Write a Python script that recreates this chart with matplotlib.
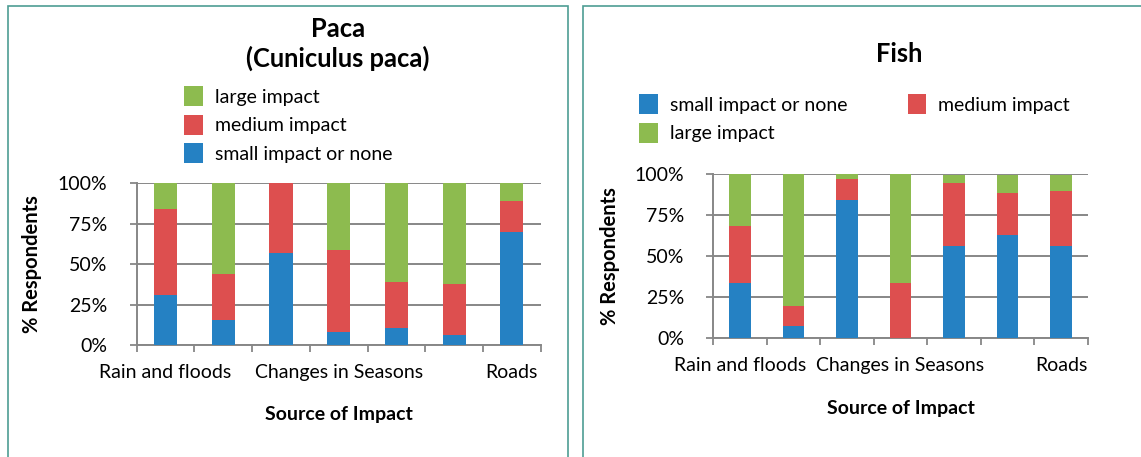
import numpy as np
import matplotlib.pyplot as plt
from matplotlib.patches import Rectangle

plt.rcParams['font.family'] = ['Lato', 'DejaVu Sans']

# categories on the x axis (only every third label is visible in the original)
tick_labels = ["Rain and floods", "", "", "Changes in Seasons", "", "", "Roads"]
y_ticks = [0, 25, 50, 75, 100]
y_tick_labels = ["0%", "25%", "50%", "75%", "100%"]

# Paca (Cuniculus paca), % respondents
paca_small = [31, 15.5, 57, 8, 10.5, 6, 70]
paca_medium = [53, 28.5, 43, 51, 28.5, 32, 19]
paca_large = [16, 56, 0, 41, 61, 62, 11]

# Fish, % respondents
fish_small = [33.3, 7.3, 84, 0, 56.3, 62.5, 56.3]
fish_medium = [35, 12.2, 13, 33.3, 38, 26, 33.3]
fish_large = [31.7, 80.5, 3, 66.7, 5, 11, 10]

series_names = ["small impact or none", "medium impact", "large impact"]
colors = ['#2581c3', '#dd4f4f', '#8dbb4f']
grid_col = '#878787'
border_col = '#4e9d94'

W, H = 1141, 457
fig = plt.figure(figsize=(W / 100, H / 100), dpi=100)


def px_axes(x0, y0, x1, y1):
    # pixel box (top-left origin) -> figure axes
    return fig.add_axes([x0 / W, 1 - y1 / H, (x1 - x0) / W, (y1 - y0) / H])


def draw_stack(ax, small, medium, large, ylab_x):
    x = np.arange(len(small))
    small = np.array(small)
    medium = np.array(medium)
    large = np.array(large)
    bars = []
    bars.append(ax.bar(x, small, 0.4, color=colors[0], label=series_names[0], zorder=3))
    bars.append(ax.bar(x, medium, 0.4, bottom=small, color=colors[1], label=series_names[1], zorder=3))
    bars.append(ax.bar(x, large, 0.4, bottom=small + medium, color=colors[2], label=series_names[2], zorder=3))
    ax.set_xlim(-0.5, len(small) - 0.5)
    ax.set_ylim(0, 100)
    ax.set_yticks(y_ticks)
    ax.set_yticklabels(y_tick_labels, fontsize=14)
    ax.set_xticks(np.arange(len(small) + 1) - 0.5)
    ax.set_xticklabels([])
    ax.set_xticks(x, minor=True)
    ax.set_xticklabels(tick_labels, minor=True, fontsize=14)
    ax.tick_params(axis='x', which='major', length=5, width=1.3, color=grid_col)
    ax.tick_params(axis='x', which='minor', length=0, pad=14)
    ax.tick_params(axis='y', length=5, width=1.3, color=grid_col, pad=16)
    ax.grid(axis='y', color=grid_col, lw=1.4, zorder=0)
    for s in ['top', 'right']:
        ax.spines[s].set_visible(False)
    for s in ['left', 'bottom']:
        ax.spines[s].set_color(grid_col)
        ax.spines[s].set_linewidth(1.4)
    ax.set_xlabel("Source of Impact", fontsize=14, fontweight='bold', va='center')
    ax.xaxis.set_label_coords(0.5, -0.43)
    ax.set_ylabel("% Respondents", fontsize=14.5, fontweight='bold', va='center')
    ax.yaxis.set_label_coords(ylab_x, 0.5)
    return bars


leg_kw = dict(frameon=False, fontsize=14, borderpad=0, borderaxespad=0, handlelength=0.96,
              handleheight=1.2, handletextpad=0.62, labelspacing=0.45)

# panel frames
fig.patches.append(Rectangle((8 / W, -0.1), 559.7 / W, 1.1 - 5.7 / H, transform=fig.transFigure,
                             fill=False, edgecolor=border_col, lw=1.2))
fig.patches.append(Rectangle((583.3 / W, -0.1), 0.5, 1.1 - 5.7 / H, transform=fig.transFigure,
                             fill=False, edgecolor=border_col, lw=1.2))

# left chart: Paca
ax1 = px_axes(136.7, 183.3, 540.7, 345)
b1 = draw_stack(ax1, paca_small, paca_medium, paca_large, -0.259)
fig.text(338 / W, 1 - 36.7 / H, "Paca", ha='center', va='baseline', fontsize=18.4, fontweight='bold')
fig.text(338 / W, 1 - 66.7 / H, "(Cuniculus paca)", ha='center', va='baseline', fontsize=18.4,
         fontweight='bold')
fig.legend(b1[::-1], series_names[::-1], loc='upper left', bbox_to_anchor=(184 / W, 1 - 86 / H),
           **leg_kw)

# right chart: Fish
ax2 = px_axes(713.3, 174, 1087.7, 337.7)
b2 = draw_stack(ax2, fish_small, fish_medium, fish_large, -0.276)
fig.text(899.5 / W, 1 - 61.7 / H, "Fish", ha='center', va='baseline', fontsize=18.4, fontweight='bold')
fig.legend([b2[0], b2[2], b2[1]], [series_names[0], series_names[2], series_names[1]], ncol=2,
           loc='upper left', bbox_to_anchor=(639 / W, 1 - 94 / H), columnspacing=3.1, **leg_kw)

fig.savefig('out.png', dpi=100)
